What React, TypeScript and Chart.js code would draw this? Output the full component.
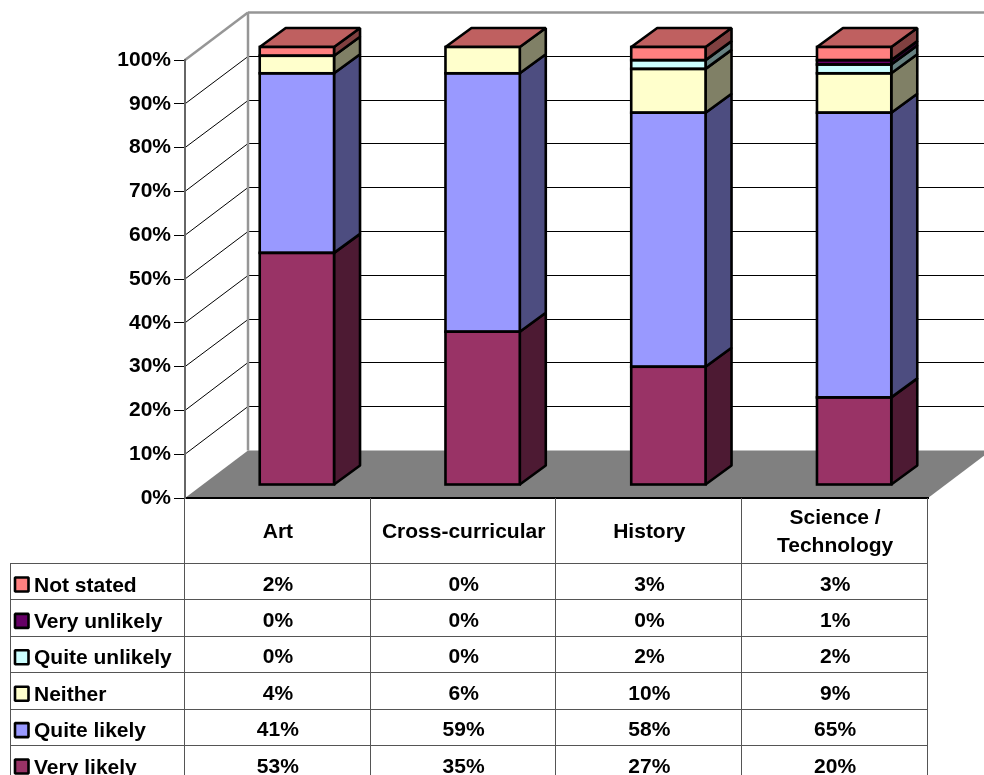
import React, { useEffect, useRef } from "react";
import { Chart, registerables } from "chart.js";

Chart.register(...registerables);

const categories = ["Art", "Cross-curricular", "History", "Science / Technology"];
const headerLines = [["Art"], ["Cross-curricular"], ["History"], ["Science /", "Technology"]];
const yTicks = [0, 10, 20, 30, 40, 50, 60, 70, 80, 90, 100];

const veryLikely = [53, 35, 27, 20];
const quiteLikely = [41, 59, 58, 65];
const neither = [4, 6, 10, 9];
const quiteUnlikely = [0, 0, 2, 2];
const veryUnlikely = [0, 0, 0, 1];
const notStated = [2, 0, 3, 3];

const seriesNames = ["Very likely", "Quite likely", "Neither", "Quite unlikely", "Very unlikely", "Not stated"];
const seriesValues = [veryLikely, quiteLikely, neither, quiteUnlikely, veryUnlikely, notStated];
const seriesColors = [
  [153, 51, 102],
  [153, 153, 255],
  [255, 255, 204],
  [204, 255, 255],
  [102, 0, 102],
  [255, 128, 128],
];

const FONT_SIZE = 21;
const FONT = `bold ${FONT_SIZE}px "Liberation Sans", Arial, sans-serif`;
const LEFT = 185, RIGHT = 928, TOP = 60, BOTTOM = 498;
const WALL_DX = 63, WALL_DY = -47.5;
const BAR_DX = 19, BAR_DY = -13;
const DEPTH_DX = 26, DEPTH_DY = -19;
const ROW_TOP = 563.5, ROW_H = 36.4;
const GRAY = "#808080";
const BAR_LINE = 2.6;

const rgb = (c: number[], f = 1) => `rgb(${c.map((v) => Math.round(v * f)).join(",")})`;
const snap = (v: number) => Math.floor(v) + 0.5;

function poly(ctx: CanvasRenderingContext2D, pts: number[][], fill: string | null, stroke: string | null, lw = BAR_LINE) {
  ctx.beginPath();
  pts.forEach((p, i) => (i ? ctx.lineTo(p[0], p[1]) : ctx.moveTo(p[0], p[1])));
  ctx.closePath();
  if (fill) { ctx.fillStyle = fill; ctx.fill(); }
  if (stroke) { ctx.strokeStyle = stroke; ctx.lineWidth = lw; ctx.lineJoin = "bevel"; ctx.stroke(); }
}

function line(ctx: CanvasRenderingContext2D, x1: number, y1: number, x2: number, y2: number, color: string, lw = 1) {
  ctx.beginPath();
  ctx.moveTo(x1, y1);
  ctx.lineTo(x2, y2);
  ctx.strokeStyle = color;
  ctx.lineWidth = lw;
  ctx.stroke();
}

const wallPlugin = {
  id: "wall3d",
  beforeDraw(chart: any) {
    const { ctx, scales } = chart;
    const y = scales.y;
    const backLeft = LEFT + WALL_DX;
    ctx.save();
    ctx.fillStyle = "#fff";
    ctx.fillRect(0, 0, chart.width, chart.height);
    // side wall slants and back grid lines
    yTicks.forEach((t) => {
      const py = y.getPixelForValue(t);
      if (t > 0 && t < 100) {
        const by = snap(py + WALL_DY);
        line(ctx, LEFT, py, backLeft, by, "#000", 1);
        line(ctx, backLeft, by, chart.width, by, "#000", 1);
      }
    });
    const top100 = y.getPixelForValue(100);
    const zero = y.getPixelForValue(0);
    line(ctx, LEFT, top100, backLeft, top100 + WALL_DY, "#969696", 2.5);
    line(ctx, backLeft, top100 + WALL_DY, chart.width, top100 + WALL_DY, "#969696", 2.5);
    line(ctx, backLeft, top100 + WALL_DY, backLeft, zero + WALL_DY, "#969696", 2.5);
    // floor
    poly(ctx, [
      [LEFT, zero],
      [backLeft, zero + WALL_DY],
      [RIGHT + WALL_DX, zero + WALL_DY],
      [RIGHT, zero],
    ], GRAY, null);
    ctx.restore();
  },
  beforeDatasetsDraw(chart: any) {
    const { ctx } = chart;
    ctx.save();
    ctx.translate(BAR_DX, BAR_DY);
    // side and top faces, from the bar elements the library laid out
    chart.data.datasets.forEach((ds: any, si: number) => {
      const meta = chart.getDatasetMeta(si);
      meta.data.forEach((bar: any, i: number) => {
        const r = bar.x + bar.width / 2;
        if (ds.data[i] > 0) {
          poly(ctx, [
            [r, bar.y],
            [r + DEPTH_DX, bar.y + DEPTH_DY],
            [r + DEPTH_DX, bar.base + DEPTH_DY],
            [r, bar.base],
          ], rgb(seriesColors[si], 0.5), "#000");
        }
      });
    });
    const last = chart.getDatasetMeta(chart.data.datasets.length - 1);
    last.data.forEach((bar: any) => {
      const l = bar.x - bar.width / 2;
      const r = bar.x + bar.width / 2;
      poly(ctx, [
        [l, bar.y],
        [l + DEPTH_DX, bar.y + DEPTH_DY],
        [r + DEPTH_DX, bar.y + DEPTH_DY],
        [r, bar.y],
      ], rgb(seriesColors[seriesColors.length - 1], 0.75), "#000");
    });
  },
  afterDatasetsDraw(chart: any) {
    const { ctx } = chart;
    chart.data.datasets.forEach((ds: any, si: number) => {
      const meta = chart.getDatasetMeta(si);
      meta.data.forEach((bar: any, i: number) => {
        if (ds.data[i] > 0) {
          ctx.strokeStyle = "#000";
          ctx.lineWidth = BAR_LINE;
          ctx.lineJoin = "miter";
          ctx.strokeRect(bar.x - bar.width / 2, bar.y, bar.width, bar.base - bar.y);
        }
      });
    });
    ctx.restore();
  },
  afterDraw(chart: any) {
    const { ctx, scales } = chart;
    const x = scales.x;
    const n = seriesNames.length;
    ctx.save();
    const colEdges = categories.map((_, i) => x.getPixelForValue(i) - x.width / categories.length / 2);
    colEdges.push(RIGHT);
    // table lines
    colEdges.forEach((px) => line(ctx, snap(px - 0.6), BOTTOM, snap(px - 0.6), chart.height, "#555", 1));
    line(ctx, 10.5, snap(ROW_TOP), 10.5, chart.height, "#555", 1);
    for (let r = 0; r < n; r++) {
      const ly = snap(ROW_TOP + r * ROW_H);
      line(ctx, 10, ly, RIGHT, ly, "#555", 1);
    }
    ctx.font = FONT;
    ctx.fillStyle = "#000";
    ctx.textBaseline = "alphabetic";
    // header row
    ctx.textAlign = "center";
    headerLines.forEach((lines, i) => {
      const cx = x.getPixelForValue(i);
      const baselines = lines.length === 1 ? [538] : [524, 552];
      lines.forEach((t, k) => ctx.fillText(t, cx, baselines[k]));
    });
    // rows, top row is the last series
    for (let r = 0; r < n; r++) {
      const si = n - 1 - r;
      const top = ROW_TOP + r * ROW_H;
      poly(ctx, [
        [15, top + 14],
        [28.5, top + 14],
        [28.5, top + 28],
        [15, top + 28],
      ], rgb(seriesColors[si]), "#000");
      ctx.fillStyle = "#000";
      ctx.textAlign = "left";
      ctx.fillText(seriesNames[si], 34, top + 28);
      ctx.textAlign = "center";
      seriesValues[si].forEach((v, i) => {
        ctx.fillText(`${v}%`, x.getPixelForValue(i), top + 27);
      });
    }
    ctx.restore();
  },
};

export default function App() {
  const ref = useRef<HTMLCanvasElement>(null);
  useEffect(() => {
    const chart = new Chart(ref.current!, {
      type: "bar",
      data: {
        labels: categories,
        datasets: seriesNames.map((name, si) => ({
          label: name,
          data: seriesValues[si],
          backgroundColor: rgb(seriesColors[si]),
          borderWidth: 0,
          barPercentage: 0.4,
          categoryPercentage: 1,
          clip: false as any,
        })),
      },
      options: {
        responsive: false,
        animation: false,
        layout: { padding: { left: 0, top: TOP, right: 984 - RIGHT, bottom: 0 } },
        plugins: { legend: { display: false }, tooltip: { enabled: false }, title: { display: false } },
        scales: {
          x: {
            stacked: true,
            grid: { display: false },
            border: { color: "#000", width: 2 },
            ticks: { display: false },
            afterFit: (s: any) => { s.height = 775 - BOTTOM; },
          },
          y: {
            stacked: true,
            min: 0,
            max: 100,
            grid: { drawOnChartArea: false, tickLength: 11, color: "#000", lineWidth: 1 },
            border: { color: "#666", width: 2 },
            ticks: {
              stepSize: 10,
              padding: 3,
              color: "#000",
              font: { family: '"Liberation Sans", Arial, sans-serif', weight: "bold", size: FONT_SIZE },
              callback: (v: any) => `${v}%`,
            },
            afterFit: (s: any) => { s.width = LEFT; },
          },
        },
      },
      plugins: [wallPlugin],
    });
    return () => chart.destroy();
  }, []);
  return (
    <canvas
      ref={ref}
      width={984}
      height={775}
      style={{ position: "fixed", left: 0, top: 0, width: 984, height: 775, display: "block" }}
    />
  );
}
